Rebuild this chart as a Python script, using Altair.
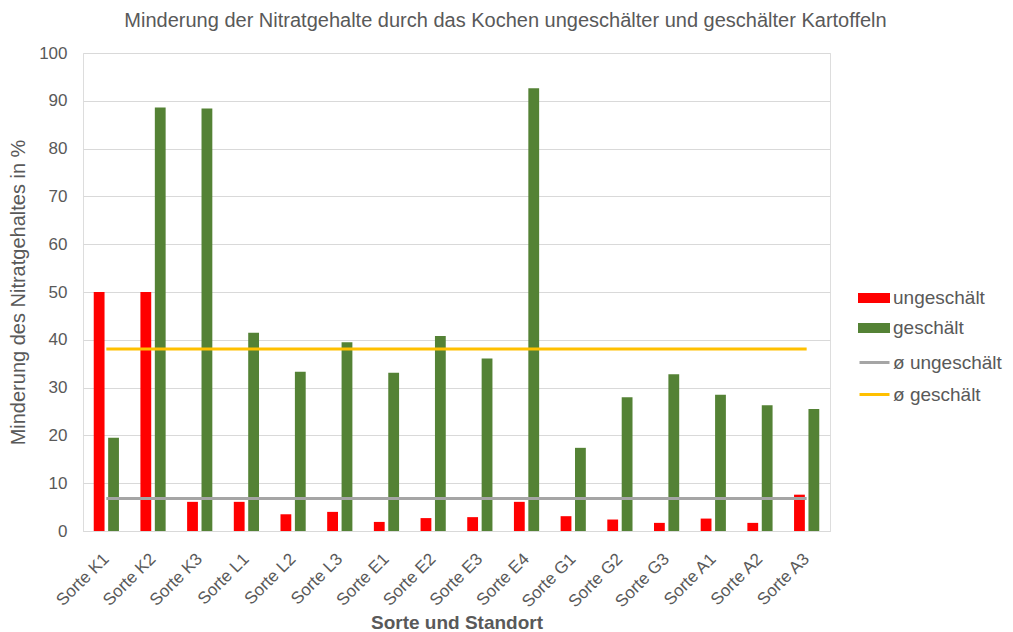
import altair as alt
import pandas as pd

sorten = ["Sorte K1", "Sorte K2", "Sorte K3", "Sorte L1", "Sorte L2", "Sorte L3",
          "Sorte E1", "Sorte E2", "Sorte E3", "Sorte E4", "Sorte G1", "Sorte G2",
          "Sorte G3", "Sorte A1", "Sorte A2", "Sorte A3"]
ungeschaelt = [50.0, 50.0, 6.1, 6.1, 3.5, 4.0, 1.9, 2.7, 2.9, 6.1, 3.1, 2.4, 1.7, 2.6, 1.7, 7.6]
geschaelt = [19.5, 88.6, 88.4, 41.5, 33.3, 39.5, 33.1, 40.8, 36.1, 92.6, 17.4, 28.0, 32.8, 28.5, 26.3, 25.5]
mittel_ungeschaelt = 6.8
mittel_geschaelt = 38.1

bar_series = ["ungeschält", "geschält"]
line_series = ["ø ungeschält", "ø geschält"]

bars_df = pd.DataFrame(
    [{"Sorte": s, "Serie": "ungeschält", "Wert": v} for s, v in zip(sorten, ungeschaelt)]
    + [{"Sorte": s, "Serie": "geschält", "Wert": v} for s, v in zip(sorten, geschaelt)]
)
lines_df = pd.DataFrame(
    [{"Sorte": s, "Serie": "ø ungeschält", "Wert": mittel_ungeschaelt} for s in sorten]
    + [{"Sorte": s, "Serie": "ø geschält", "Wert": mittel_geschaelt} for s in sorten]
)

FONT = "Liberation Sans"
TXT = "#595959"

xenc = alt.X("Sorte:N", sort=sorten, title="Sorte und Standort",
             scale=alt.Scale(paddingInner=0.46, paddingOuter=0.23),
             axis=alt.Axis(labelAngle=-45, labelAlign="right", labelBaseline="middle",
                           labelFontSize=17, labelColor=TXT, labelFont=FONT,
                           titleFontSize=19, titleFontWeight="bold", titleColor=TXT,
                           titleFont=FONT, titlePadding=4,
                           ticks=False, domainColor="#D9D9D9", domainWidth=1, grid=False,
                           labelPadding=25))
yenc = alt.Y("Wert:Q", title="Minderung des Nitratgehaltes in %",
             scale=alt.Scale(domain=[0, 100], nice=False),
             axis=alt.Axis(values=list(range(0, 101, 10)), labelFontSize=17, labelColor=TXT,
                           labelFont=FONT, titleFontSize=20, titleFontWeight="normal",
                           titleColor=TXT, titleFont=FONT, domain=False, ticks=False,
                           gridColor="#D9D9D9", gridWidth=1, labelPadding=16, titlePadding=10))

bars = alt.Chart(bars_df).mark_bar().encode(
    x=xenc,
    xOffset=alt.XOffset("Serie:N", sort=bar_series,
                        scale=alt.Scale(domain=bar_series, paddingInner=0.25, paddingOuter=0)),
    y=yenc,
    color=alt.Color("Serie:N", sort=bar_series,
                    scale=alt.Scale(domain=bar_series, range=["#FF0000", "#548235"]),
                    legend=alt.Legend(title=None, orient="none", legendX=781, legendY=235,
                                      symbolType="M-1.6,-0.5H1.6V0.5H-1.6Z", symbolSize=400,
                                      symbolStrokeWidth=0, labelFontSize=19, labelColor=TXT,
                                      labelFont=FONT, rowPadding=10, symbolOpacity=1,
                                      labelOffset=9)),
)

lines = alt.Chart(lines_df).mark_line(strokeWidth=3).encode(
    x=alt.X("Sorte:N", sort=sorten),
    y="Wert:Q",
    stroke=alt.Stroke("Serie:N", sort=line_series,
                      scale=alt.Scale(domain=line_series, range=["#A5A5A5", "#FFC000"]),
                      legend=alt.Legend(title=None, orient="none", legendX=775, legendY=293,
                                        symbolType="stroke", symbolSize=900,
                                        symbolStrokeWidth=3, labelFontSize=19,
                                        labelColor=TXT, labelFont=FONT, rowPadding=5,
                                        labelOffset=2)),
)

chart = alt.layer(bars, lines).properties(
    width=747, height=478,
    title=alt.TitleParams("Minderung der Nitratgehalte durch das Kochen ungeschälter und geschälter Kartoffeln",
                          fontSize=20, fontWeight="normal", color=TXT, font=FONT,
                          anchor="middle", dx=49, offset=13),
    autosize=alt.AutoSizeParams(type="none"),
    padding={"left": 75, "top": 45, "right": 175, "bottom": 101},
).configure_view(stroke=None).configure(background="white")

chart.save("out.html", embed_options={"renderer": "svg", "actions": False})
